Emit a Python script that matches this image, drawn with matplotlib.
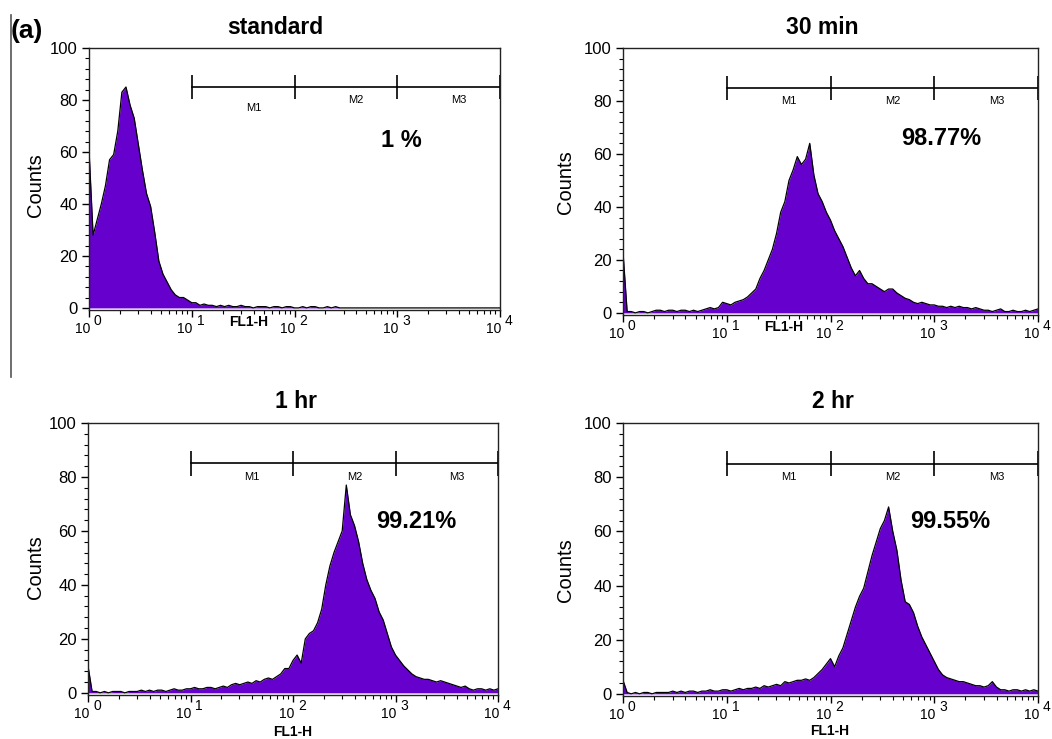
import numpy as np
import matplotlib
matplotlib.use('Agg')
import matplotlib.pyplot as plt
from matplotlib.ticker import LogLocator, MultipleLocator, NullFormatter
from matplotlib.lines import Line2D

plt.rcParams['font.family'] = ['Liberation Sans', 'DejaVu Sans']

# FL1-H histogram counts, one value per 0.04 decade from 10^0 to 10^4 (101 channels)
std_counts = [
    61, 28, 34, 40, 47, 57, 59, 68, 83, 85,
    78, 73, 63, 53, 44, 39, 29, 18, 13, 10,
    7, 5, 4, 4, 3, 2, 2, 1, 1.5, 1,
    1, 0.5, 1, 0.5, 1, 0.5, 0.5, 1, 0.5, 0.5,
    0, 0.5, 0.5, 0.5, 0, 0.5, 0.5, 0, 0.5, 0.5,
    0, 0, 0.5, 0, 0.5, 0.5, 0, 0, 0.5, 0,
    0.5, 0, 0, 0, 0, 0, 0, 0, 0, 0,
    0, 0, 0, 0, 0, 0, 0, 0, 0, 0,
    0, 0, 0, 0, 0, 0, 0, 0, 0, 0,
    0, 0, 0, 0, 0, 0, 0, 0, 0, 0,
    0]

min30_counts = [
    23, 0.5, 0.5, 0, 0.5, 0.5, 0, 0.5, 1, 1,
    0.5, 1, 1, 0.5, 1, 1, 0.5, 1, 0.5, 1,
    1.5, 2, 1.5, 2, 4, 3.5, 3, 4, 4.5, 5,
    6, 7.5, 9, 13, 16, 20, 24, 30, 38, 42,
    50, 54, 59, 56, 58, 64, 52, 45, 42, 38,
    35, 31, 28, 25, 21, 17, 14, 16, 13, 11,
    11, 10, 9, 8, 9, 9, 7.5, 6.5, 5.5, 5,
    4, 3.5, 4, 3.5, 3, 3, 2.5, 2.5, 2, 2.5,
    2, 2.5, 2, 2, 1.5, 2, 1.5, 1, 1, 0.5,
    1, 1.5, 0.5, 0.5, 1, 0.5, 0.5, 1, 0.5, 1,
    1.5]

hr1_counts = [
    10, 0.5, 0.5, 0, 0.5, 0, 0.5, 0.5, 0.5, 0,
    0.5, 0.5, 0.5, 1, 0.5, 1, 0.5, 1, 1, 0.5,
    1, 1.5, 1, 1, 1.5, 1.5, 2, 1.5, 1.5, 2,
    2, 1.5, 2, 2.5, 2, 3, 3.5, 3, 3.5, 4,
    3.5, 4.5, 4, 5, 5.5, 5, 6, 7, 9, 9,
    12, 14, 11, 20, 22, 23, 26, 31, 40, 47,
    52, 56, 60, 77, 66, 62, 56, 48, 42, 38,
    35, 30, 27, 22, 17, 14, 12, 10, 8.5, 7,
    6, 5.5, 5, 5, 4.5, 4, 4.5, 4, 3.5, 3,
    2.5, 2, 2.5, 1.5, 1, 1.5, 1.5, 1, 1.5, 1,
    1.5]

hr2_counts = [
    5, 0.5, 0, 0.5, 0, 0.5, 0.5, 0, 0.5, 0.5,
    0.5, 0.5, 1, 0.5, 1, 0.5, 1, 1, 0.5, 1,
    1, 1.5, 1, 1, 1.5, 1.5, 1, 1.5, 2, 1.5,
    2, 2, 2.5, 2, 3, 2.5, 3, 3.5, 3, 4.5,
    4, 4.5, 5, 5, 5.5, 5, 6, 7.5, 9, 11,
    13, 10, 14, 17, 22, 27, 32, 36, 39, 45,
    51, 56, 61, 64, 69, 60, 53, 42, 34, 33,
    30, 25, 21, 18, 15, 12, 9, 7, 6, 5.5,
    5, 4.5, 4.5, 4, 3.5, 3, 3, 2.5, 3, 4.5,
    2.5, 1.5, 1.5, 1, 1.5, 1.5, 1, 1.5, 1, 1.5,
    1]

titles = ['standard', '30 min', '1 hr', '2 hr']
percents = ['1 %', '98.77%', '99.21%', '99.55%']
marker_edges = [10, 100, 1000, 10000]
marker_names = ['M1', 'M2', 'M3']

W, H = 1052, 739
purple = '#6600cc'
ybot = -0.8

def fx(x):
    return x / W

def fy(y):
    return 1 - y / H

fig = plt.figure(figsize=(W / 100, H / 100), dpi=100)

# axes boxes in pixels: left, right, top(100), bottom
boxes = [(89, 500, 48, 310), (623, 1038, 48, 315),
         (88, 498, 423, 695), (623, 1038, 423, 696)]
title_pos = [(275, 27), (822, 27), (296, 402), (833, 402)]
counts_pos = [(36, 185), (566, 182), (35, 567), (565, 570)]
fl_pos = [(249, 322), (784, 327), (293, 732), (830, 731)]
pct_pos = [(10**3.04, 64.5), (10**3.07, 66), (10**3.2, 63.5), (10**3.15, 63.5)]
m1_y = [77, 80, 80, 80]

data = [std_counts, min30_counts, hr1_counts, hr2_counts]

for i in range(4):
    l, r, t, b = boxes[i]
    ax = fig.add_axes([fx(l), fy(b), (r - l) / W, (b - t) / H])
    counts = np.array(data[i])
    x = 10 ** np.linspace(0, 4, len(counts))

    ax.fill_between(x, 0, counts, color=purple, lw=0)
    ax.plot(x, counts, color='black', lw=0.9)

    ax.set_xscale('log')
    ax.set_xlim(1, 1e4)
    ax.set_ylim(ybot, 100)
    ax.set_yticks([0, 20, 40, 60, 80, 100])
    ax.yaxis.set_minor_locator(MultipleLocator(4))
    ax.xaxis.set_major_locator(LogLocator(base=10, numticks=10))
    ax.xaxis.set_minor_locator(LogLocator(base=10, subs=np.arange(2, 10), numticks=10))
    ax.xaxis.set_major_formatter(NullFormatter())
    ax.xaxis.set_minor_formatter(NullFormatter())
    ax.tick_params(which='major', direction='out', length=5, width=1, labelsize=12, pad=3)
    ax.tick_params(which='minor', direction='out', length=3, width=0.8)
    for sp in ax.spines.values():
        sp.set_linewidth(1)
        sp.set_color('#222222')

    # decade labels "10 k"
    for k in range(5):
        ax.annotate('10', xy=(10**k, 0), xycoords=('data', 'axes fraction'),
                    xytext=(1, -23), textcoords='offset pixels',
                    ha='right', va='baseline', fontsize=10)
        ax.annotate(str(k), xy=(10**k, 0), xycoords=('data', 'axes fraction'),
                    xytext=(5, -15), textcoords='offset pixels',
                    ha='left', va='baseline', fontsize=10)

    # marker regions M1-M3
    ax.plot([marker_edges[0], marker_edges[-1]], [85, 85], color='black', lw=1.2)
    ax.vlines(marker_edges, 80.5, 89.5, color='black', lw=1.2)
    for j, name in enumerate(marker_names):
        yy = m1_y[i] if j == 0 else 80
        ax.text(10**(1.6 + j), yy, name, ha='center', va='center', fontsize=8)

    ax.text(pct_pos[i][0], pct_pos[i][1], percents[i], ha='center', va='center',
            fontsize=17, fontweight='bold')

    fig.text(fx(title_pos[i][0]), fy(title_pos[i][1]), titles[i], ha='center',
             va='center', fontsize=16.5, fontweight='bold')
    fig.text(fx(counts_pos[i][0]), fy(counts_pos[i][1]), 'Counts', rotation=90,
             ha='center', va='center', fontsize=14.5)
    fig.text(fx(fl_pos[i][0]), fy(fl_pos[i][1]), 'FL1-H', ha='center', va='center',
             fontsize=10, fontweight='bold')

fig.text(fx(27), fy(31), '(a)', ha='center', va='center', fontsize=19, fontweight='bold')
fig.add_artist(Line2D([fx(11), fx(11)], [fy(15), fy(377)], color='#555555', lw=1.2))

fig.savefig('out.png', dpi=100)
